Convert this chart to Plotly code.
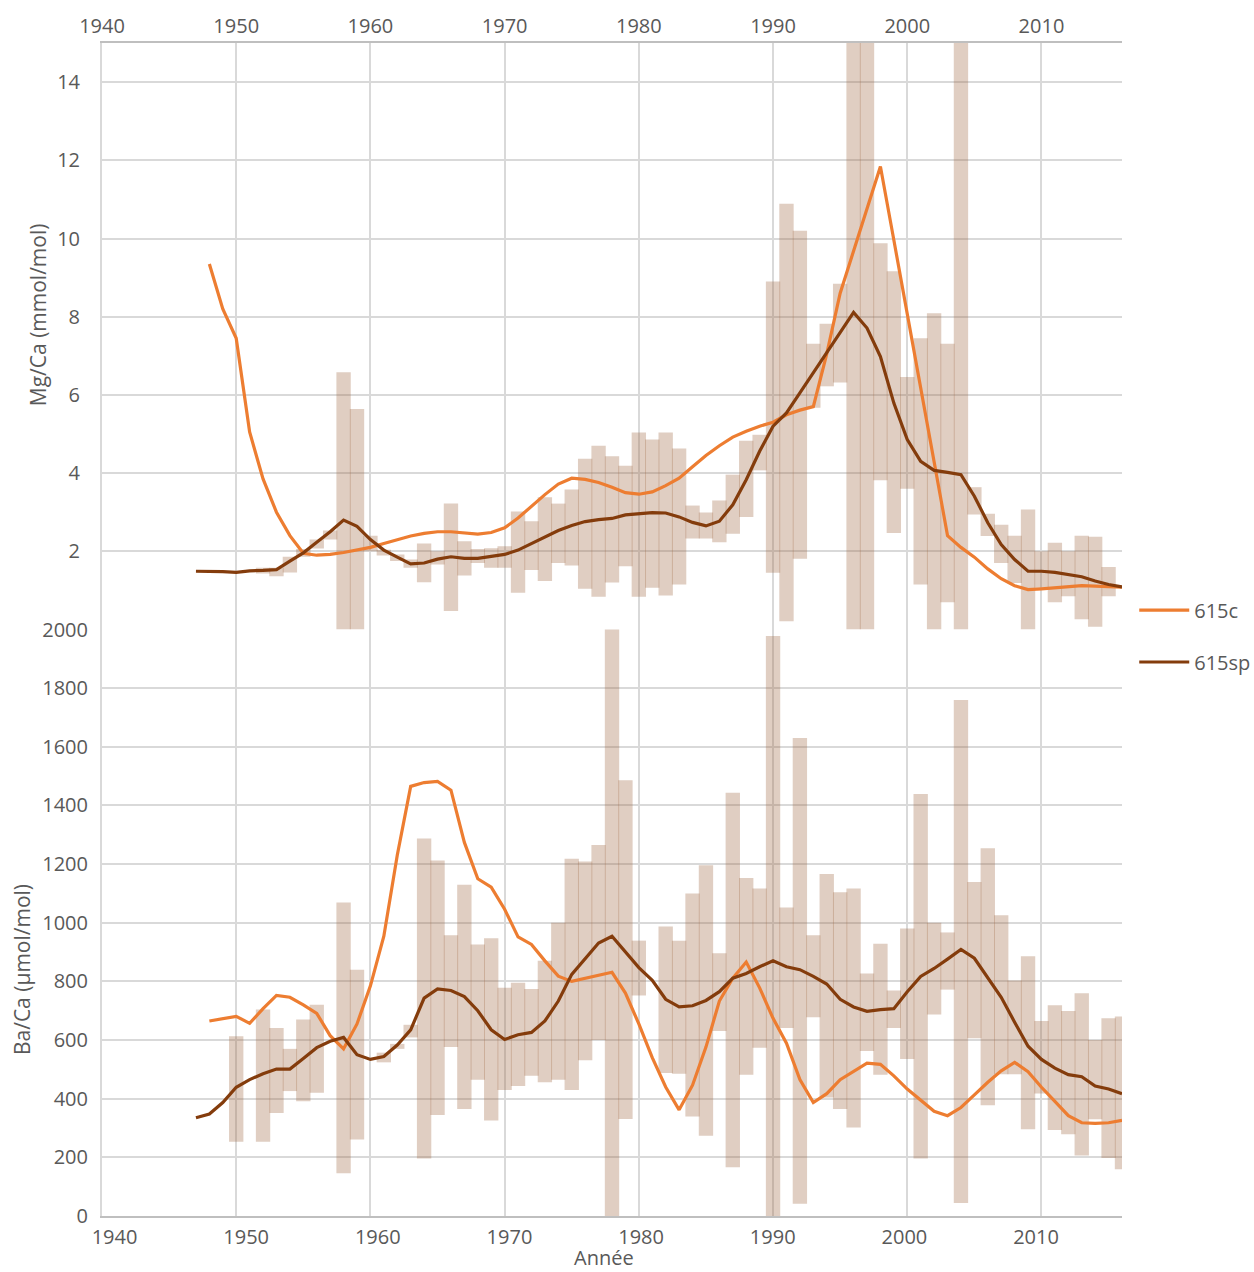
import plotly.graph_objects as go

# ---------------- data ----------------
# Mg/Ca range bars (top panel), one per year
mg_bar_years = list(range(1952, 2016))
mg_low = [1.43, 1.36, 1.46, 1.86, 2.07, 2.30, 0.0, 0.0, 2.00, 1.89,
          1.75, 1.58, 1.21, 1.66, 0.47, 1.38, 1.70, 1.58, 1.58, 0.94,
          1.52, 1.24, 1.70, 1.64, 1.04, 0.84, 1.20, 1.62, 0.84, 1.07,
          0.87, 1.15, 2.33, 2.33, 2.23, 2.45, 2.88, 4.07, 1.45, 0.21,
          1.81, 5.67, 6.22, 6.32, 0.0, 0.0, 3.82, 2.47, 3.60, 1.15,
          0.0, 0.70, 0.0, 2.94, 2.39, 1.70, 1.19, 0.0, 1.07, 0.70,
          0.85, 0.26, 0.07, 0.85]
mg_high = [1.58, 1.58, 1.86, 2.06, 2.30, 2.53, 6.58, 5.64, 2.40, 2.04,
           1.92, 1.79, 2.20, 2.00, 3.22, 2.26, 2.06, 2.08, 2.13, 3.02,
           2.77, 3.38, 3.22, 3.58, 4.37, 4.70, 4.43, 4.19, 5.04, 4.86,
           5.04, 4.63, 3.17, 2.99, 3.30, 3.96, 4.83, 4.98, 8.90, 10.89,
           10.20, 7.31, 7.82, 8.84, 17.0, 17.0, 9.88, 9.16, 6.46, 7.45,
           8.09, 7.31, 17.0, 3.64, 2.96, 2.68, 2.40, 3.07, 2.00, 2.22,
           2.00, 2.40, 2.37, 1.60]

# Ba/Ca range bars (bottom panel), None = no bar that year
ba_bar_years = list(range(1950, 2017))
ba_low = [253, None, 253, 351, 426, 391, 420, None, 146, 261,
          None, 524, 570, 609, 196, 344, 576, 365, 465, 326,
          430, 443, 478, 456, 465, 430, 531, 600, 0, 331,
          752, None, 488, 485, 339, 274, 631, 166, 482, 574,
          0, 641, 42, 678, 404, 365, 302, 563, 482, 641,
          535, 196, 687, 772, 44, 606, 378, 483, 483, 296,
          418, 293, 279, 206, 330, 198, 159]
ba_high = [613, None, 704, 641, 570, 670, 720, None, 1069, 840,
           None, 557, 587, 652, 1287, 1212, 957, 1130, 926, 947,
           778, 795, 774, 870, 1000, 1218, 1209, 1265, 2050, 1486,
           939, None, 987, 939, 1100, 1196, 896, 1443, 1153, 1117,
           1978, 1052, 1630, 957, 1166, 1104, 1117, 827, 928, 769,
           980, 1439, 1000, 967, 1760, 1139, 1254, 1026, 803, 886,
           665, 719, 699, 760, 600, 674, 680]

# Mg/Ca lines
mg_c_years = list(range(1948, 2017))
mg_c = [9.35, 8.2, 7.45, 5.05, 3.85, 3.0, 2.4, 1.95, 1.9, 1.92,
        1.97, 2.03, 2.1, 2.2, 2.3, 2.39, 2.46, 2.5, 2.5, 2.46,
        2.44, 2.48, 2.6, 2.85, 3.15, 3.45, 3.72, 3.87, 3.84, 3.76,
        3.64, 3.5, 3.46, 3.52, 3.68, 3.87, 4.16, 4.45, 4.7, 4.92,
        5.07, 5.2, 5.3, 5.49, 5.61, 5.7, 7.05, 8.6, 9.68, 10.76,
        11.84, 9.96, 8.07, 6.18, 4.29, 2.4, 2.1, 1.85, 1.55, 1.3,
        1.12, 1.02, 1.04, 1.07, 1.1, 1.12, 1.11, 1.09, 1.08]
mg_sp_years = list(range(1947, 2017))
mg_sp = [1.49, 1.49, 1.48, 1.46, 1.5, 1.51, 1.53, 1.75, 1.96, 2.23,
         2.5, 2.8, 2.64, 2.3, 2.03, 1.85, 1.68, 1.7, 1.8, 1.86,
         1.82, 1.82, 1.86, 1.92, 2.03, 2.2, 2.38, 2.53, 2.66, 2.76,
         2.81, 2.84, 2.93, 2.97, 2.99, 2.98, 2.88, 2.74, 2.65, 2.77,
         3.19, 3.83, 4.56, 5.2, 5.54, 6.05, 6.56, 7.07, 7.58, 8.11,
         7.71, 6.98, 5.79, 4.86, 4.3, 4.07, 4.02, 3.96, 3.41, 2.73,
         2.17, 1.79, 1.49, 1.49, 1.46, 1.41, 1.35, 1.24, 1.15, 1.09]

# Ba/Ca lines
ba_c_years = list(range(1948, 2017))
ba_c = [665, 674, 681, 657, 707, 752, 746, 720, 691, 615,
        570, 655, 785, 954, 1230, 1465, 1478, 1482, 1452, 1274,
        1150, 1121, 1046, 952, 926, 870, 818, 800, 811, 820,
        831, 760, 655, 540, 440, 362, 446, 576, 733, 811,
        866, 778, 674, 589, 465, 387, 417, 465, 492, 521,
        517, 478, 433, 394, 357, 342, 370, 413, 456, 495,
        524, 492, 439, 391, 342, 318, 316, 318, 326]
ba_sp_years = list(range(1947, 2017))
ba_sp = [335, 348, 387, 439, 465, 485, 501, 501, 537, 574,
         596, 609, 550, 534, 544, 583, 635, 743, 774, 769,
         748, 700, 635, 602, 618, 626, 665, 733, 824, 876,
         931, 954, 902, 847, 804, 739, 713, 717, 735, 765,
         811, 827, 850, 870, 850, 840, 817, 791, 739, 713,
         698, 704, 707, 765, 817, 844, 876, 909, 879, 811,
         746, 661, 579, 534, 504, 482, 475, 443, 433, 417]

year_ticks = list(range(1940, 2011, 10))
mg_ticks = [2, 4, 6, 8, 10, 12, 14]
ba_ticks = list(range(0, 2001, 200))

# ---------------- style ----------------
C_ORANGE = "#ED7D31"
C_BROWN = "#843C0C"
C_BAR = "rgba(160,105,70,0.33)"
GRID = "#d9d9d9"
AXL = "#bfbfbf"
TXT = "#595959"
FONT = "Open Sans"


def heights(lo, hi):
    return [None if (a is None or b is None) else b - a for a, b in zip(lo, hi)]


fig = go.Figure()

fig.add_trace(go.Bar(x=mg_bar_years, y=heights(mg_low, mg_high), base=mg_low,
                     width=1.07, marker=dict(color=C_BAR, line=dict(width=0)),
                     showlegend=False, hoverinfo="skip", xaxis="x", yaxis="y"))
fig.add_trace(go.Bar(x=ba_bar_years, y=heights(ba_low, ba_high), base=ba_low,
                     width=1.07, marker=dict(color=C_BAR, line=dict(width=0)),
                     showlegend=False, hoverinfo="skip", xaxis="x2", yaxis="y2"))

fig.add_trace(go.Scatter(x=mg_c_years, y=mg_c, mode="lines", name="615c",
                         line=dict(color=C_ORANGE, width=3.2), legend="legend",
                         xaxis="x", yaxis="y"))
fig.add_trace(go.Scatter(x=mg_sp_years, y=mg_sp, mode="lines", name="615sp",
                         line=dict(color=C_BROWN, width=3.2), legend="legend2",
                         xaxis="x", yaxis="y"))
fig.add_trace(go.Scatter(x=ba_c_years, y=ba_c, mode="lines", name="615c",
                         line=dict(color=C_ORANGE, width=3.2), showlegend=False,
                         xaxis="x2", yaxis="y2"))
fig.add_trace(go.Scatter(x=ba_sp_years, y=ba_sp, mode="lines", name="615sp",
                         line=dict(color=C_BROWN, width=3.2), showlegend=False,
                         xaxis="x2", yaxis="y2"))
# empty trace so that the bottom label axis is drawn
fig.add_trace(go.Scatter(x=[], y=[], mode="lines", showlegend=False,
                         hoverinfo="skip", xaxis="x3", yaxis="y2"))

tickfont = dict(family=FONT, size=20, color=TXT)

fig.update_layout(
    width=1254, height=1272,
    margin=dict(l=102, r=132, t=43, b=56, autoexpand=False),
    paper_bgcolor="white", plot_bgcolor="white",
    barmode="overlay",
    font=dict(family=FONT, color=TXT),
    xaxis=dict(domain=[0, 1], anchor="y", side="top", range=[1940, 2016],
               tickvals=year_ticks, showgrid=True, gridcolor=GRID, gridwidth=2,
               showline=True, linecolor=AXL, linewidth=2, ticks="",
               zeroline=False, tickfont=tickfont),
    yaxis=dict(domain=[0.5, 1], anchor="x", range=[0, 15], tickvals=mg_ticks,
               showgrid=True, gridcolor=GRID, gridwidth=2, showline=True,
               linecolor=GRID, linewidth=2, ticks="", zeroline=False,
               tickfont=tickfont, ticklabelstandoff=16),
    xaxis2=dict(domain=[0, 1], anchor="y2", range=[1940, 2016],
                tickvals=year_ticks, showgrid=True, gridcolor=GRID, gridwidth=2,
                showline=True, linecolor=AXL, linewidth=2, ticks="",
                showticklabels=False, zeroline=False),
    xaxis3=dict(overlaying="x2", anchor="y2", side="bottom",
                range=[1939.05, 2016.53], tickvals=year_ticks, showgrid=False,
                showline=False, ticks="", zeroline=False, tickfont=tickfont,
                ticklabelstandoff=7),
    yaxis2=dict(domain=[0, 0.5], anchor="x2", range=[0, 2000], tickvals=ba_ticks,
                showgrid=True, gridcolor=GRID, gridwidth=2, showline=True,
                linecolor=GRID, linewidth=2, ticks="", zeroline=False,
                tickfont=tickfont, ticklabelstandoff=8),
    legend=dict(x=1.012, y=0.5166, xanchor="left", yanchor="middle",
                font=dict(family=FONT, size=20, color=TXT),
                bgcolor="rgba(0,0,0,0)", itemwidth=50),
    legend2=dict(x=1.012, y=0.4723, xanchor="left", yanchor="middle",
                 font=dict(family=FONT, size=20, color=TXT),
                 bgcolor="rgba(0,0,0,0)", itemwidth=50),
    annotations=[
        dict(text="Mg/Ca (mmol/mol)", xref="paper", yref="paper",
             x=-0.0627, y=0.768, textangle=-90, showarrow=False,
             font=dict(family=FONT, size=21, color=TXT),
             xanchor="center", yanchor="middle"),
        dict(text="Ba/Ca (µmol/mol)", xref="paper", yref="paper",
             x=-0.0784, y=0.2097, textangle=-90, showarrow=False,
             font=dict(family=FONT, size=21, color=TXT),
             xanchor="center", yanchor="middle"),
        dict(text="Année", xref="paper", yref="paper",
             x=0.492, y=-0.0355, showarrow=False,
             font=dict(family=FONT, size=20, color=TXT),
             xanchor="center", yanchor="middle"),
    ],
)

fig.write_html("out.html")
